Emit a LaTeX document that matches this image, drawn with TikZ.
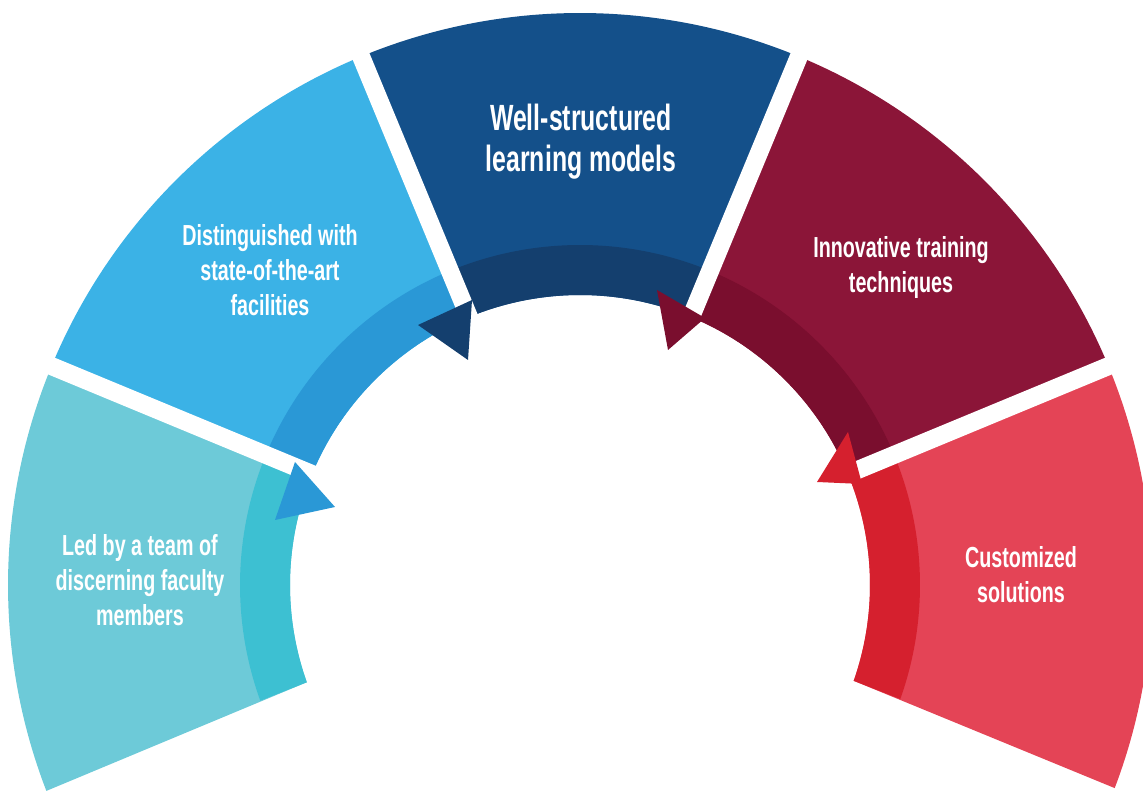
\documentclass[tikz,border=0pt]{standalone}
\usepackage{fontspec}
\newfontfamily\lab[FakeStretch=0.68]{Liberation Sans}
\definecolor{s1}{HTML}{6DCAD8}
\definecolor{b1}{HTML}{3DC0D2}
\definecolor{s2}{HTML}{3BB2E6}
\definecolor{b2}{HTML}{2A98D6}
\definecolor{s3}{HTML}{14508A}
\definecolor{b3}{HTML}{143F6E}
\definecolor{s4}{HTML}{8B1538}
\definecolor{b4}{HTML}{7A0E2E}
\definecolor{s5}{HTML}{E44456}
\definecolor{b5}{HTML}{D5202E}
\begin{document}
\begin{tikzpicture}[x=1pt,y=1pt,
  lbl/.style={text=white, align=center, inner sep=0pt, font=\lab\bfseries\fontsize{29}{35}\selectfont},
  biglbl/.style={lbl, font=\lab\bfseries\fontsize{36.5}{41}\selectfont},
  gapline/.style={white, line width=18pt},
]
\useasboundingbox (0,0) rectangle (1143,791);
\def\Ro{572}\def\Rb{340}\def\Ri{290}
\begin{scope}[shift={(580,206)}]
  % segment 1
  \fill[s1] (157.5:\Ro) arc[start angle=157.5, end angle=201.1, radius=\Ro] -- (199.6:\Ri) arc[start angle=199.6, end angle=157.5, radius=\Ri] -- cycle;
  \fill[b1] (157.5:\Rb) arc[start angle=157.5, end angle=199.9, radius=\Rb] -- (199.6:\Ri) arc[start angle=199.6, end angle=157.5, radius=\Ri] -- cycle;
  % segment 2
  \fill[s2] (112.5:\Ro) arc[start angle=112.5, end angle=157.5, radius=\Ro] -- (157.5:\Ri) arc[start angle=157.5, end angle=112.5, radius=\Ri] -- cycle;
  \fill[b2] (112.5:\Rb) arc[start angle=112.5, end angle=157.5, radius=\Rb] -- (157.5:\Ri) arc[start angle=157.5, end angle=112.5, radius=\Ri] -- cycle;
  % segment 3
  \fill[s3] (67.5:\Ro) arc[start angle=67.5, end angle=112.5, radius=\Ro] -- (112.5:\Ri) arc[start angle=112.5, end angle=67.5, radius=\Ri] -- cycle;
  \fill[b3] (67.5:\Rb) arc[start angle=67.5, end angle=112.5, radius=\Rb] -- (112.5:\Ri) arc[start angle=112.5, end angle=67.5, radius=\Ri] -- cycle;
  % segment 4
  \fill[s4] (22.5:\Ro) arc[start angle=22.5, end angle=67.5, radius=\Ro] -- (67.5:\Ri) arc[start angle=67.5, end angle=22.5, radius=\Ri] -- cycle;
  \fill[b4] (22.5:\Rb) arc[start angle=22.5, end angle=67.5, radius=\Rb] -- (67.5:\Ri) arc[start angle=67.5, end angle=22.5, radius=\Ri] -- cycle;
  % segment 5
  \fill[s5] (-20.8:\Ro) arc[start angle=-20.8, end angle=22.5, radius=\Ro] -- (22.5:\Ri) arc[start angle=22.5, end angle=-19.3, radius=\Ri] -- cycle;
  \fill[b5] (-19.6:\Rb) arc[start angle=-19.6, end angle=22.5, radius=\Rb] -- (22.5:\Ri) arc[start angle=22.5, end angle=-19.3, radius=\Ri] -- cycle;
  % white gaps
  \foreach \a in {22.5,67.5,112.5,157.5}
    \draw[gapline] (\a:270) -- (\a:610);
\end{scope}
% arrowheads
\fill[b2] (295,329) -- (275,271) -- (335,284) -- cycle;
\fill[b3] (418,466) -- (472,491) -- (468,431) -- cycle;
\fill[b4] (657,501) -- (705,473) -- (668,441) -- cycle;
\fill[b5] (848,359) -- (817,309) -- (862,307) -- cycle;
% labels
\node[lbl] (t1) at (140,211) {Led by a team of\\discerning faculty\\members};
\node[lbl] (t2) at (270,521) {Distinguished with\\state-of-the-art\\facilities};
\node[biglbl] (t3) at (581,649) {Well-structured\\learning models};
\node[lbl] (t4) at (901,523) {Innovative training\\techniques};
\node[lbl] (t5) at (1021,216) {Customized\\solutions};
\end{tikzpicture}
\end{document}
